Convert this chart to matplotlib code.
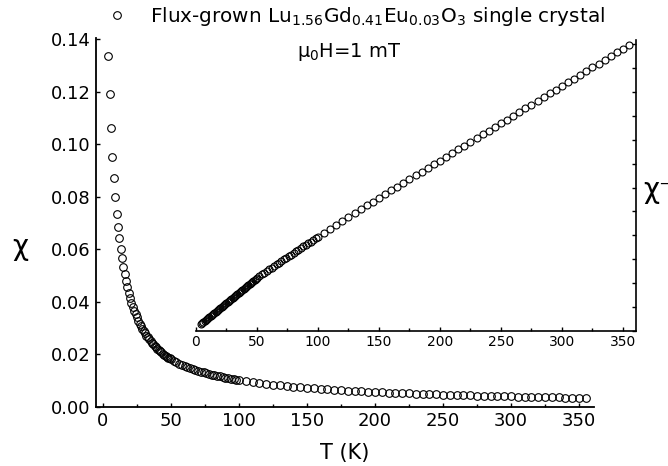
import matplotlib.pyplot as plt
from matplotlib.ticker import MultipleLocator, FormatStrFormatter

# temperature grid (K): 1 K steps to 50 K, 2 K to 100 K, 5 K above
temp_low = [4, 5, 6, 7, 8, 9, 10, 11, 12, 13, 14, 15, 16, 17, 18, 19, 20, 21, 22,
            23, 24, 25, 26, 27, 28, 29, 30, 31, 32, 33, 34, 35, 36, 37, 38, 39, 40,
            41, 42, 43, 44, 45, 46, 47, 48, 49, 50]
temp_mid = [52, 54, 56, 58, 60, 62, 64, 66, 68, 70, 72, 74, 76, 78, 80, 82, 84,
            86, 88, 90, 92, 94, 96, 98, 100]
temp_high = [105, 110, 115, 120, 125, 130, 135, 140, 145, 150, 155, 160, 165, 170,
             175, 180, 185, 190, 195, 200, 205, 210, 215, 220, 225, 230, 235, 240,
             245, 250, 255, 260, 265, 270, 275, 280, 285, 290, 295, 300, 305, 310,
             315, 320, 325, 330, 335, 340, 345, 350, 355]

# inverse susceptibility
inv_low = [7.48, 8.38, 9.42, 10.50, 11.49, 12.53, 13.62, 14.64, 15.55, 16.6, 17.7,
           18.8, 19.8, 20.9, 22.0, 23.0, 24.1, 25.2, 26.2, 27.3, 28.4, 29.4, 30.5,
           31.6, 32.6, 33.7, 34.8, 35.8, 36.9, 37.9, 39.0, 40.0, 41.1, 42.1, 43.2,
           44.2, 45.3, 46.3, 47.3, 48.4, 49.4, 50.4, 51.4, 52.4, 53.4, 54.4, 55.4]
inv_mid = [57.3, 59.1, 60.9, 62.7, 64.5, 66.2, 68.0, 69.7, 71.4, 73.1, 74.8, 76.5,
           78.2, 79.9, 81.6, 83.3, 85.0, 86.7, 88.4, 90.1, 91.8, 93.4, 95.1, 96.8,
           98.5]
inv_high = [102.7, 106.9, 111.1, 115.2, 119.3, 123.4, 127.4, 131.4, 135.4, 139.3,
            143.2, 147.1, 151.0, 154.9, 158.8, 162.7, 166.6, 170.5, 174.4, 178.3,
            182.2, 186.1, 190.0, 193.9, 197.8, 201.7, 205.6, 209.5, 213.4, 217.3,
            221.2, 225.1, 229.0, 232.9, 236.8, 240.7, 244.6, 248.5, 252.4, 256.3,
            260.2, 264.1, 268.0, 271.9, 275.8, 279.7, 283.6, 287.5, 291.4, 295.3,
            299.2]

temp = temp_low + temp_mid + temp_high
chi_inv = inv_low + inv_mid + inv_high
chi = [1 / v for v in chi_inv]

plt.rcParams['font.family'] = 'DejaVu Sans'
plt.rcParams['mathtext.fontset'] = 'dejavusans'

fig = plt.figure(figsize=(6.68, 4.66), dpi=100)

# main panel
ax = fig.add_axes([0.1437, 0.1273, 0.7455, 0.7912])
label = r'Flux-grown Lu$_{1.56}$Gd$_{0.41}$Eu$_{0.03}$O$_3$ single crystal'
ax.plot(temp, chi, 'o', mfc='none', mec='black', ms=5.5, mew=0.8, label=label)
ax.set_xlim(-5.1, 361)
ax.set_ylim(0, 0.1405)
ax.spines[['top', 'right']].set_visible(False)
ax.spines[['left', 'bottom']].set_linewidth(1.3)
ax.xaxis.set_major_locator(MultipleLocator(50))
ax.xaxis.set_minor_locator(MultipleLocator(25))
ax.yaxis.set_major_locator(MultipleLocator(0.02))
ax.yaxis.set_major_formatter(FormatStrFormatter('%.2f'))
ax.tick_params(direction='in', length=3, width=1, labelsize=13, pad=4)
ax.tick_params(which='minor', direction='in', length=2, width=1)
ax.set_xlabel('T (K)', fontsize=15, labelpad=9)
fig.text(20 / 668, 1 - 247 / 466, 'χ', fontsize=20, ha='center', va='center')

leg = ax.legend(loc='upper left', bbox_to_anchor=(107 / 668, 1 - 5 / 466),
                bbox_transform=fig.transFigure, frameon=False, fontsize=14.4,
                handlelength=1.0, handletextpad=1.15, borderpad=0, borderaxespad=0)
fig.text(297 / 668, 1 - 57 / 466, r'μ$_0$H=1 mT', fontsize=14, va='baseline')

# inset: inverse susceptibility
ax2 = fig.add_axes([0.2934, 0.2897, 0.6587, 0.6245])
ax2.patch.set_alpha(0)
ax2.plot(temp, chi_inv, 'o', mfc='none', mec='black', ms=5, mew=0.8)
ax2.set_xlim(0, 360.7)
ax2.set_ylim(0, 304.4)
ax2.spines[['top', 'left']].set_visible(False)
ax2.spines[['right', 'bottom']].set_linewidth(1.2)
ax2.yaxis.tick_right()
ax2.xaxis.set_major_locator(MultipleLocator(50))
ax2.xaxis.set_minor_locator(MultipleLocator(25))
ax2.yaxis.set_major_locator(MultipleLocator(25))
ax2.tick_params(direction='in', length=3, width=1, labelsize=10, pad=3,
                labelright=False)
ax2.tick_params(which='minor', direction='in', length=2, width=1)
# the reference crops this label at the right edge of the image
fig.text(643 / 668, 1 - 190 / 466, 'χ⁻¹', fontsize=20, ha='left', va='center')

fig.savefig('out.png', dpi=100)
